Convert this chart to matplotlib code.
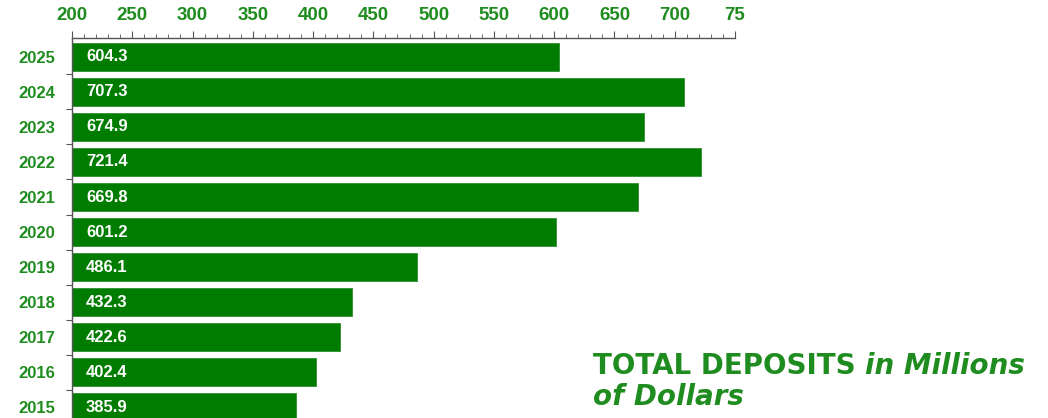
import numpy as np
import matplotlib
matplotlib.use("Agg")
import matplotlib.pyplot as plt
from matplotlib.ticker import MultipleLocator, FixedLocator

# datos del gráfico
years = ["2025", "2024", "2023", "2022", "2021", "2020", "2019", "2018", "2017", "2016", "2015"]
deposits = [604.3, 707.3, 674.9, 721.4, 669.8, 601.2, 486.1, 432.3, 422.6, 402.4, 385.9]
xticks = [200, 250, 300, 350, 400, 450, 500, 550, 600, 650, 700, 750]
xtick_labels = ["200", "250", "300", "350", "400", "450", "500", "550", "600", "650", "700", "75"]

bar_color = "#007d00"
text_green = "#1f8c1f"
axis_color = "#555555"
base = 200  # origen de las barras

fig = plt.figure(figsize=(10.48, 4.18), dpi=100)
ax = fig.add_axes([72 / 1048, 0.0, (735 - 72) / 1048, 1 - 38 / 418])

pos = np.arange(len(years))
ax.barh(pos, np.array(deposits) - base, left=base, height=0.8, color=bar_color,
        edgecolor="#2f8f2f", linewidth=0.6)

# valores dentro de cada barra
for p, v in zip(pos, deposits):
    ax.annotate(f"{v:.1f}", xy=(base, p), xytext=(10, 0), textcoords="offset points",
                ha="left", va="center", color="white", fontsize=12,
                fontweight="bold", family="Liberation Sans")

ax.set_xlim(200, 750)
ax.set_ylim(len(years) - 1 + 0.31, -0.54)

# eje x arriba
ax.xaxis.tick_top()
ax.xaxis.set_major_locator(FixedLocator(xticks))
ax.set_xticklabels(xtick_labels)
ax.xaxis.set_minor_locator(MultipleLocator(10))
ax.tick_params(axis="x", which="major", direction="out", length=5, width=0.8,
               color=axis_color, pad=5, labelsize=13.5, labelcolor=text_green)
ax.tick_params(axis="x", which="minor", direction="out", length=3, width=0.6,
               color=axis_color)
for lbl in ax.get_xticklabels():
    lbl.set_fontweight("bold")
    lbl.set_family("Liberation Sans")

# eje y: marcas entre barras, etiquetas centradas en la barra
ax.set_yticks(pos)
ax.set_yticklabels(years)
ax.yaxis.set_minor_locator(FixedLocator(pos[:-1] + 0.5))
ax.tick_params(axis="y", which="major", length=0, pad=12, labelsize=12, labelcolor=text_green)
ax.tick_params(axis="y", which="minor", direction="out", length=4, width=0.8, color=axis_color)
for lbl in ax.get_yticklabels():
    lbl.set_fontweight("bold")
    lbl.set_family("Liberation Sans")

for side in ["right", "bottom"]:
    ax.spines[side].set_visible(False)
for side in ["top", "left"]:
    ax.spines[side].set_color(axis_color)
    ax.spines[side].set_linewidth(1.0)

# título abajo a la derecha
tfont = dict(color=text_green, fontsize=20, fontweight="bold", family="DejaVu Sans",
             ha="left", va="center")
t1 = fig.text(593 / 1048, 1 - 366 / 418, "TOTAL DEPOSITS ", **tfont)
fig.canvas.draw()
bb = t1.get_window_extent()
fig.text(bb.x1 / 1048, 1 - 366 / 418, "in Millions", style="italic", **tfont)
fig.text(593 / 1048, 1 - 397 / 418, "of Dollars", style="italic", **tfont)

fig.savefig("out.png", dpi=100)
